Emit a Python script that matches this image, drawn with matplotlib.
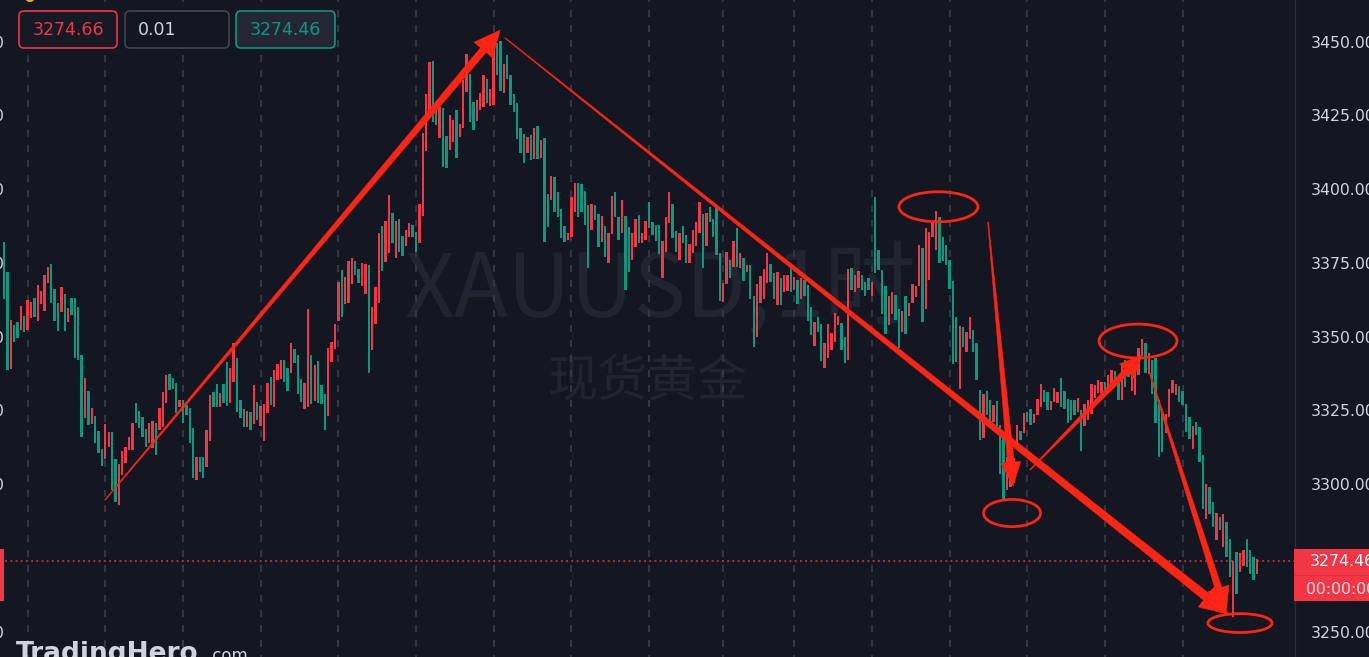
import matplotlib
matplotlib.use("Agg")
import matplotlib.pyplot as plt
from matplotlib.patches import Rectangle, Ellipse, Polygon, FancyBboxPatch
from matplotlib.transforms import Affine2D, blended_transform_factory
import numpy as np

# ---------------- data (XAUUSD 1H candles) ----------------
highs = [
    3382.6, 3372.4, 3356.1, 3354.4, 3355.5, 3360.8, 3357.4, 3362.8, 3362.3, 3363.5,
    3367.9, 3365.9, 3371.3, 3374.0, 3375.0, 3366.6, 3361.9, 3367.2, 3364.9, 3360.2,
    3363.6, 3363.6, 3360.5, 3344.2, 3336.4, 3332.1, 3326.2, 3323.5, 3318.4, 3312.3,
    3320.8, 3318.1, 3318.1, 3308.9, 3307.2, 3311.7, 3313.1, 3316.4, 3321.2, 3328.0,
    3325.2, 3323.1, 3319.1, 3321.1, 3321.9, 3321.1, 3326.3, 3331.6, 3337.4, 3337.7,
    3336.5, 3334.8, 3328.9, 3328.9, 3327.2, 3326.3, 3319.4, 3309.7, 3309.7, 3309.7,
    3318.7, 3330.6, 3331.7, 3334.3, 3331.3, 3334.3, 3341.9, 3339.9, 3348.2, 3343.2,
    3328.9, 3325.9, 3325.2,
    3325.0, 3334.0, 3328.3, 3326.9, 3327.6, 3334.8, 3336.8, 3339.1, 3341.1, 3342.5,
    3342.7, 3339.7, 3348.2, 3346.2, 3344.2, 3336.3, 3334.8, 3360.0, 3344.2, 3340.8,
    3342.1, 3334.0, 3330.9, 3346.8, 3348.7, 3354.9, 3369.0, 3373.0, 3370.7, 3376.2,
    3377.3, 3376.1, 3373.3, 3375.3, 3375.0, 3374.7, 3360.6, 3367.3, 3385.5, 3388.0,
    3389.7, 3398.5, 3392.5, 3389.6, 3390.5,
    3384.5, 3386.6, 3388.9, 3388.3, 3386.0, 3395.6, 3419.4, 3432.7, 3443.7, 3444.0,
    3428.2, 3428.2, 3427.9, 3418.5, 3425.6, 3423.9, 3427.3, 3422.5, 3437.5, 3446.3,
    3439.5, 3430.1, 3430.7, 3433.2, 3439.2, 3437.7, 3434.3, 3450.5, 3450.1, 3450.8,
    3442.9, 3445.9, 3439.2, 3432.7, 3429.8, 3421.1, 3419.1, 3418.0, 3418.8, 3421.1,
    3421.9, 3417.3, 3417.7, 3399.0, 3404.9, 3404.5, 3399.6, 3393.6, 3387.9, 3385.7,
    3397.9, 3402.4,
    3402.6, 3402.1, 3399.9, 3395.1, 3395.6, 3395.1, 3392.0, 3391.4, 3388.0, 3385.7,
    3398.1, 3399.6, 3391.1, 3396.8, 3391.3, 3387.7, 3385.5, 3390.5, 3391.7, 3385.7,
    3389.7, 3396.0, 3389.4, 3388.3, 3388.3, 3383.0, 3391.1, 3399.6, 3395.4, 3386.3,
    3385.5, 3387.9, 3384.9, 3381.8, 3386.6, 3389.4, 3396.2, 3392.0, 3392.5, 3394.3,
    3390.5, 3394.3, 3378.7, 3368.7, 3379.2, 3376.4, 3383.0, 3387.2, 3378.9, 3377.0,
    3374.7, 3374.7, 3364.2, 3368.5, 3371.0, 3373.3, 3378.7, 3375.0, 3371.9, 3372.4,
    3370.2, 3371.3, 3371.3, 3373.6, 3370.7, 3369.6, 3370.5, 3369.6, 3367.9, 3360.4,
    3355.5, 3357.2, 3354.7, 3348.2, 3354.7, 3351.8, 3358.5, 3357.4, 3355.1, 3350.2,
    3373.3, 3373.9, 3371.3, 3372.8, 3371.3, 3369.0, 3370.2, 3369.0, 3397.7, 3380.0,
    3373.0, 3367.6, 3364.2, 3365.7, 3364.5, 3360.0, 3359.2, 3364.2, 3361.9, 3368.5,
    3367.6, 3381.5, 3380.4, 3387.2, 3386.0, 3388.9, 3393.1, 3390.9, 3384.3, 3381.5,
    3376.6, 3369.4, 3357.0, 3354.0, 3353.6, 3352.1, 3357.2, 3352.9, 3348.4, 3332.5,
    3331.2, 3332.1, 3328.9, 3327.2, 3328.7, 3320.4, 3317.6, 3309.7, 3304.1, 3309.5,
    3320.4, 3318.5, 3324.6, 3325.0, 3325.8, 3324.4, 3329.5, 3334.3, 3332.5, 3331.7,
    3328.7, 3333.2, 3331.7, 3336.6, 3332.1, 3329.2, 3328.9, 3328.9, 3329.6, 3325.5,
    3327.8, 3328.9, 3334.6, 3334.0, 3335.7, 3335.1, 3335.1, 3337.4, 3339.3, 3338.9,
    3335.7, 3341.4, 3342.7, 3341.9, 3337.4, 3340.2, 3346.5, 3349.8, 3348.2, 3344.8,
    3342.5, 3343.1, 3328.9, 3324.4, 3324.4, 3332.9, 3335.9, 3334.3, 3333.7, 3332.1,
    3327.8, 3323.3, 3320.1, 3321.6, 3319.9, 3310.3, 3300.7, 3299.5, 3294.4, 3290.7,
    3289.3, 3290.5, 3287.6, 3282.0, 3274.6, 3277.5, 3277.1, 3278.0, 3282.0, 3278.0,
    3275.8, 3275.2,
]
lows = [
    3363.4, 3339.1, 3339.4, 3348.6, 3349.9, 3352.7, 3352.1, 3352.7, 3356.7, 3357.2,
    3355.8, 3361.5, 3359.1, 3368.6, 3361.8, 3355.8, 3352.3, 3358.9, 3352.4, 3355.5,
    3357.7, 3343.3, 3342.5, 3316.4, 3322.9, 3320.4, 3320.8, 3314.3, 3311.0, 3306.6,
    3308.9, 3313.1, 3298.4, 3294.4, 3293.3, 3303.5, 3307.5, 3312.0, 3312.0, 3321.2,
    3319.4, 3316.5, 3313.1, 3314.3, 3312.6, 3310.3, 3318.7, 3319.9, 3327.9, 3332.3,
    3332.7, 3324.5, 3326.6, 3321.1, 3323.8, 3314.3, 3302.5, 3301.8, 3304.6, 3302.5,
    3306.3, 3315.1, 3326.6, 3326.6, 3326.6, 3327.9, 3326.9, 3328.0, 3335.1, 3325.0,
    3322.8, 3319.9, 3319.9,
    3319.0, 3321.0, 3322.1, 3320.1, 3315.1, 3324.6, 3327.2, 3326.6, 3335.9, 3336.3,
    3335.1, 3332.0, 3338.0, 3341.4, 3330.9, 3328.3, 3325.8, 3326.6, 3327.8, 3328.7,
    3328.0, 3327.8, 3319.0, 3323.5, 3341.9, 3346.3, 3355.8, 3357.2, 3361.7, 3361.9,
    3368.5, 3371.3, 3368.7, 3367.6, 3364.9, 3338.0, 3346.1, 3354.9, 3361.9, 3372.8,
    3375.8, 3378.9, 3382.3, 3377.3, 3379.2,
    3377.8, 3381.2, 3384.3, 3384.3, 3379.2, 3382.3, 3391.3, 3413.5, 3424.5, 3423.3,
    3422.2, 3417.7, 3408.1, 3407.5, 3413.7, 3416.5, 3411.2, 3418.2, 3421.1, 3433.5,
    3423.3, 3420.5, 3423.7, 3427.3, 3428.2, 3429.6, 3428.6, 3429.0, 3439.2, 3433.8,
    3433.0, 3437.7, 3429.0, 3426.7, 3417.4, 3412.6, 3409.2, 3412.6, 3410.3, 3410.6,
    3410.6, 3410.9, 3382.6, 3387.7, 3396.8, 3392.8, 3391.1, 3383.8, 3382.6, 3383.2,
    3384.1, 3392.8,
    3391.1, 3392.8, 3388.3, 3373.9, 3386.8, 3390.0, 3380.9, 3382.6, 3377.5, 3375.3,
    3385.2, 3391.1, 3383.4, 3385.5, 3366.2, 3372.4, 3376.4, 3380.9, 3382.1, 3382.1,
    3383.4, 3387.2, 3384.9, 3383.0, 3378.4, 3370.2, 3379.2, 3389.1, 3383.8, 3379.2,
    3376.6, 3382.1, 3375.3, 3375.5, 3378.7, 3381.2, 3385.5, 3373.6, 3381.2, 3389.4,
    3384.1, 3378.1, 3362.6, 3362.3, 3368.5, 3370.2, 3374.1, 3374.1, 3373.6, 3369.4,
    3372.4, 3363.1, 3347.0, 3350.4, 3361.9, 3363.4, 3368.7, 3369.0, 3363.4, 3361.1,
    3361.1, 3365.7, 3366.0, 3365.7, 3366.2, 3361.7, 3363.4, 3364.2, 3355.8, 3351.0,
    3347.2, 3352.1, 3342.2, 3340.0, 3343.1, 3346.1, 3348.7, 3354.4, 3346.1, 3341.6,
    3342.7, 3366.2, 3365.7, 3367.1, 3366.2, 3364.2, 3366.2, 3364.2, 3371.9, 3373.2,
    3358.3, 3351.5, 3354.4, 3358.3, 3356.3, 3346.8, 3352.1, 3351.3, 3357.4, 3361.9,
    3364.0, 3367.6, 3355.5, 3359.7, 3369.6, 3384.1, 3380.0, 3375.3, 3376.2, 3374.7,
    3366.8, 3341.1, 3341.9, 3332.9, 3347.0, 3345.3, 3349.8, 3345.3, 3335.7, 3315.6,
    3316.3, 3323.8, 3320.4, 3321.6, 3319.3, 3304.1, 3295.0, 3298.4, 3299.5, 3300.9,
    3314.2, 3315.4, 3317.8, 3321.6, 3320.4, 3321.2, 3323.8, 3326.6, 3328.3, 3325.5,
    3325.5, 3328.3, 3328.0, 3326.6, 3325.8, 3321.2, 3322.1, 3323.8, 3324.9, 3311.7,
    3320.1, 3322.1, 3324.4, 3329.6, 3331.3, 3331.3, 3330.6, 3332.3, 3332.9, 3334.2,
    3328.9, 3328.9, 3333.4, 3336.8, 3332.1, 3330.6, 3337.4, 3343.8, 3338.0, 3337.7,
    3331.2, 3321.2, 3309.7, 3311.4, 3317.8, 3323.3, 3331.4, 3330.6, 3328.3, 3327.2,
    3318.2, 3315.9, 3312.5, 3317.0, 3308.0, 3292.2, 3288.8, 3290.5, 3285.9, 3281.4,
    3284.8, 3279.2, 3275.8, 3269.0, 3255.4, 3263.3, 3270.7, 3272.9, 3272.4, 3270.1,
    3267.9, 3270.1,
]
# r = rising candle (red, Chinese convention), g = falling candle (green)
directions = (
    "ggrggrgrrg" "rrrrgggrgr" "ggggrgrggg" "rrggrrrrrg" "gggrrgrrrg" "ggrggggrgg" "rrggrggrrg" "ggr"
    "grgrrrgrrr" "ggrgggrrgr" "gggrrrrgrr" "rggrrgrrrg" "rrgrg"
    "grrggrrrrg" "grggrrgrrr" "ggrrrgrrgg" "rggggggrgr" "grggrggggr" "rr"
    "ggggrggrgr" "rggrggrrgr" "rggggrrrgg" "rggrrrrgrg" "gggrrgrgrg" "rggrrrrggr"
    "grrgrgrggg" "rggrrrrrgg" "rgrrgggrgg" "ggrrggrgrr" "rrgrrrrggg" "gggrgrrggg"
    "rggrgggrrr" "rgrggrrrgg" "rrrgggggrg" "rrrrrrgrrg" "grggrrrrgr" "ggggrrrrgg"
    "ggrgggrggr" "grggrgrrgg" "gr"
)
day_starts = [7, 30, 53, 76, 99, 122, 145, 168, 191, 213, 234, 257, 280, 303, 326, 349]
price_ticks = [3450, 3425, 3400, 3375, 3350, 3325, 3300, 3250]
last_price = 3274.46
sell_price, spread, buy_price = "3274.66", "0.01", "3274.46"
symbol_text, interval_text = "XAUUSD,", "1时"
name_text = "现货黄金"

# annotations (candle index, price)
arrows = [  # start, tip, shaft half-width at head (px), head length, head half-width
    ((29.9, 3295.1), (146.9, 3454.4), 3.6, 26, 12),
    ((148.4, 3451.7), (362.5, 3256.4), 4.2, 28, 13),
    ((291.4, 3389.3), (298.8, 3299.8), 3.3, 24, 10),
    ((303.8, 3305.3), (337.0, 3344.2), 3.2, 22, 10),
    ((338.8, 3339.8), (361.9, 3257.1), 3.4, 25, 11),
]
ellipses = [  # center, width (candles), height (price)
    ((276.7, 3394.5), 23.4, 10.2),
    ((298.5, 3290.7), 16.9, 9.2),
    ((335.8, 3349.0), 23.1, 11.5),
    ((366.0, 3253.4), 19.0, 6.4),
]

# ---------------- style ----------------
W, H, DPI = 1369, 657, 100
BG = "#131722"
UP = "#f23645"
DOWN = "#089981"
MARK = "#ff2414"
GRID = "#3a3e4a"
TEXT = "#d1d4dc"
WMC = "#212531"
PANEL = 1294
STEP = 3.377

fig = plt.figure(figsize=(W / DPI, H / DPI), dpi=DPI, facecolor=BG)
ax = fig.add_axes([0, 0, PANEL / W, 1])
ax.set_facecolor(BG)
for s in ax.spines.values():
    s.set_visible(False)
ax.set_xticks([])
ax.set_yticks([])
ax.set_xlim(-4 / STEP, (PANEL - 4) / STEP)
ax.set_ylim(3241.9, 3464.6)

pix = Affine2D().scale(1 / DPI, -1 / DPI).translate(0, H / DPI) + fig.dpi_scale_trans

# watermark
ax.text(405, 317, symbol_text, transform=pix, fontsize=63, color=WMC,
        family=["Noto Sans CJK SC", "DejaVu Sans"], ha="left", va="baseline", zorder=0.5)
ax.text(774, 317, interval_text, transform=pix, fontsize=66, color=WMC,
        family=["Noto Sans CJK SC", "DejaVu Sans"], ha="left", va="baseline", zorder=0.5)
ax.text(548, 382, name_text, transform=pix, fontsize=36, color=WMC,
        family=["Noto Sans CJK SC"], ha="left", va="center", zorder=0.5)

# grid
for d in day_starts:
    ax.axvline(d, color=GRID, lw=1.2, ls=(3, (4.2, 4.8)), zorder=1)

# candles
n = min(len(highs), len(lows), len(directions))
x = np.arange(n)
hi = np.array(highs[:n])
lo = np.array(lows[:n])
cols = [UP if c == "r" else DOWN for c in directions[:n]]
ax.bar(x, np.maximum(hi - lo, 0.4), bottom=lo, width=0.7, color=cols, linewidth=0, zorder=3)

# last price line
ax.axhline(last_price, color=UP, lw=1.1, ls=(0, (1.2, 2.2)), zorder=2)

# annotations
def taper_arrow(p0, p1, w1, hl, hw):
    a = ax.transData.transform(p0)
    b = ax.transData.transform(p1)
    d = b - a
    L = np.hypot(d[0], d[1])
    u = d / L
    nrm = np.array([-u[1], u[0]])
    base = b - u * hl
    w0 = 0.35
    pts = [a + nrm * w0, base + nrm * w1, base + nrm * hw, b,
           base - nrm * hw, base - nrm * w1, a - nrm * w0]
    pts = ax.transData.inverted().transform(np.array(pts))
    ax.add_patch(Polygon(pts, closed=True, facecolor=MARK, edgecolor=MARK,
                         lw=0.4, zorder=5, joinstyle="miter"))

for p0, p1, w1, hl, hw in arrows:
    taper_arrow(p0, p1, w1, hl, hw)

for c, w, h in ellipses:
    ax.add_patch(Ellipse(c, w, h, fill=False, edgecolor=MARK, lw=2.0, zorder=5))

# right price scale
ax.plot([PANEL + 0.5, PANEL + 0.5], [0, H], transform=pix, color="#2a2e39", lw=1, clip_on=False)
tr = blended_transform_factory(pix, ax.transData)
for p in price_ticks:
    ax.text(1311, p, f"{p:.2f}", transform=tr, color=TEXT, fontsize=11.3,
            ha="left", va="center", clip_on=False)
    ax.text(4, p, "0", transform=tr, color=TEXT, fontsize=11.3,
            ha="right", va="center", clip_on=False)

ax.add_patch(Rectangle((PANEL, 549), W - PANEL, 52, transform=pix, facecolor=UP,
                       edgecolor="none", clip_on=False, zorder=6))
ax.plot([PANEL, W], [575, 575], transform=pix, color="#d83040", lw=0.8, clip_on=False, zorder=6.5)
ax.text(1310, 562, f"{last_price:.2f}", transform=pix, color="white", fontsize=11.3,
        ha="left", va="center", clip_on=False, zorder=7)
ax.text(1306, 589, "00:00:00", transform=pix, color="#ffdfe2", fontsize=11.3,
        ha="left", va="center", clip_on=False, zorder=7)
ax.add_patch(Rectangle((0, 549), 3.5, 52, transform=pix, facecolor=UP,
                       edgecolor="none", clip_on=False, zorder=6))

# top-left order boxes
boxes = [((19, 11), 98, 37, "#161a25", UP, sell_price, UP, "center"),
         ((125, 11), 104, 37, BG, "#434651", spread, TEXT, "left"),
         ((236, 11), 99, 37, "#242733", DOWN, buy_price, DOWN, "center")]
for (bx, by), bw, bh, fc, ec, txt, tc, ha in boxes:
    ax.add_patch(FancyBboxPatch((bx, by), bw, bh, boxstyle="round,pad=0,rounding_size=5",
                                transform=pix, facecolor=fc, edgecolor=ec, lw=1.2,
                                clip_on=False, zorder=8))
    tx = bx + bw / 2 if ha == "center" else bx + 13
    ax.text(tx, by + bh / 2 + 0.5, txt, transform=pix, color=tc, fontsize=12.5,
            ha=ha, va="center", clip_on=False, zorder=9)

ax.add_patch(Ellipse((30, -3), 10, 10, transform=pix, facecolor="#f5a623",
                     edgecolor="none", clip_on=False, zorder=8))

# TradingHero logo
ax.text(16, 661, "TradingHero", transform=pix, color=TEXT, fontsize=19, fontweight="bold",
        ha="left", va="baseline", clip_on=False, zorder=8)
ax.text(207, 661, ".com", transform=pix, color=TEXT, fontsize=12,
        ha="left", va="baseline", clip_on=False, zorder=8)

fig.savefig("out.png", dpi=DPI, facecolor=BG)
